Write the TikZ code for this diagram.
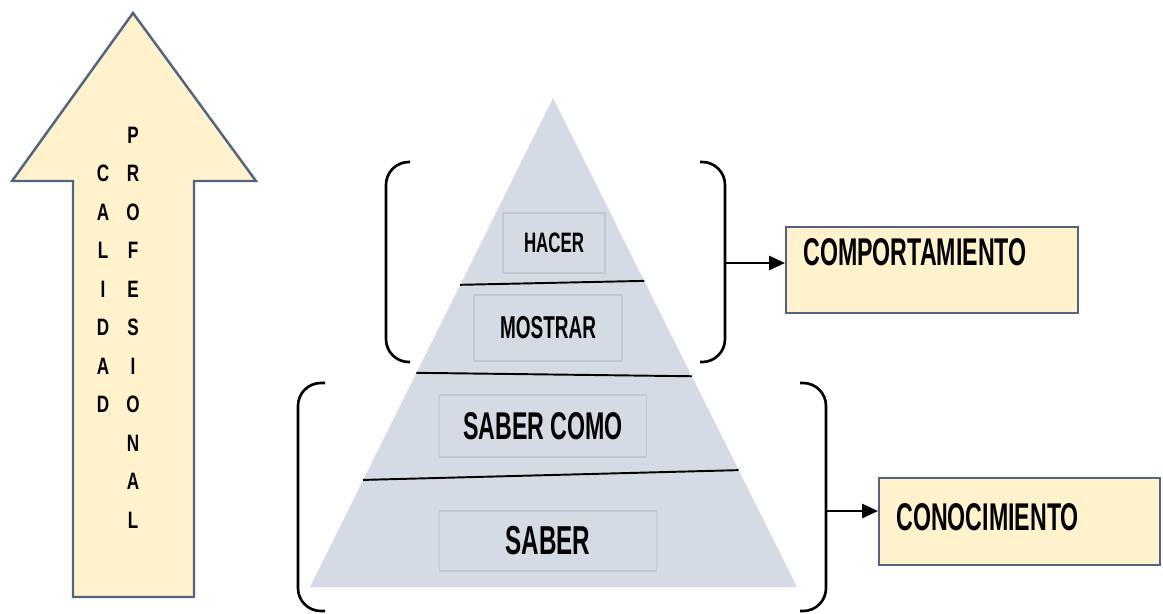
\documentclass[tikz,border=0pt]{standalone}
\usepackage{fontspec}
\setmainfont{Liberation Sans}
\newfontfamily\narrowfont[FakeStretch=0.6]{Liberation Sans}
\newfontfamily\letterfont[FakeStretch=0.72]{Liberation Sans}
\usetikzlibrary{calc,arrows.meta}
\definecolor{cream}{HTML}{FFF2CC}
\definecolor{slate}{HTML}{52647F}
\definecolor{pyrgray}{HTML}{D5DBE5}
\definecolor{tboxline}{HTML}{C2C8D1}

\begin{document}
\begin{tikzpicture}[x=0.02cm, y=-0.02cm,
            letter/.style={inner sep=0, font=\letterfont\bfseries\fontsize{13.5}{14}\selectfont},
            tbox/.style={draw=tboxline, line width=0.6pt, fill=pyrgray, inner sep=0,
                font=\narrowfont\bfseries},
            infobox/.style={draw=slate, line width=1.2pt, fill=cream, inner sep=0},
            boxtext/.style={inner sep=0, anchor=west, font=\narrowfont\bfseries\fontsize{22}{24}\selectfont},
            brace/.style={line width=1.5pt, rounded corners=13pt},
            link/.style={line width=1.3pt, -{Triangle[length=9pt, width=8pt]}},
            level/.style={line width=1.1pt}]
        \useasboundingbox (0,0) rectangle (1163,613);

        \draw [slate, line width=1.4pt, fill=cream, line join=miter]
            (133,13) -- (256,181) -- (194,181) -- (194,597) -- (73,597) -- (73,181) -- (12,181) -- cycle;
        \foreach \ch [count=\i] in {C,A,L,I,D,A,D}
            \node [letter] (cal\i) at (103,173.5+38.5*\i-38.5) {\ch};
        \foreach \ch [count=\i] in {P,R,O,F,E,S,I,O,N,A,L}
            \node [letter] (pro\i) at (133,135+38.5*\i-38.5) {\ch};

        \coordinate (apex) at (553,98);
        \coordinate (bl) at (310,587);
        \coordinate (br) at (797,587);
        \fill [pyrgray] (apex) -- (bl) -- (br) -- cycle;
        \draw [level] ($(apex)!0.382!(bl)$) -- ($(apex)!0.374!(br)$);
        \draw [level] ($(apex)!0.562!(bl)$) -- ($(apex)!0.569!(br)$);
        \draw [level] ($(apex)!0.781!(bl)$) -- ($(apex)!0.761!(br)$);

        \node [tbox, minimum width=2.04cm, minimum height=1.2cm, font=\narrowfont\bfseries\fontsize{16}{18}\selectfont] (hacer) at (554,243) {HACER};
        \node [tbox, minimum width=2.96cm, minimum height=1.32cm, font=\narrowfont\bfseries\fontsize{18}{20}\selectfont] (mostrar) at (548,328) {MOSTRAR};
        \node [tbox, minimum width=4.14cm, minimum height=1.24cm, font=\narrowfont\bfseries\fontsize{22}{24}\selectfont] (sabcomo) at (543,426) {SABER COMO};
        \node [tbox, minimum width=4.34cm, minimum height=1.2cm, font=\narrowfont\bfseries\fontsize{23}{25}\selectfont] (saber) at (548,541) {SABER};

        \draw [brace] (410,162) -- (386,162) -- (386,362) -- (410,362);
        \draw [brace] (700,162) -- (725,162) -- (725,362) -- (700,362);
        \draw [brace] (325,383) -- (298,383) -- (298,611) -- (325,611);
        \draw [brace] (800,383) -- (826,383) -- (826,611) -- (800,611);

        \node [infobox, minimum width=5.84cm, minimum height=1.72cm] (comp) at (932,270) {};
        \node [boxtext] (comptext) at (803,252) {COMPORTAMIENTO};
        \node [infobox, minimum width=5.62cm, minimum height=1.74cm] (cono) at (1019.5,521.5) {};
        \node [boxtext] (conotext) at (896,517) {CONOCIMIENTO};

        \coordinate (kt) at (725,263);
        \coordinate (kb) at (826,511);
        \draw [link] (kt) -- (kt -| comp.west);
        \draw [link] (kb) -- (kb -| cono.west);
    \end{tikzpicture}
\end{document}
